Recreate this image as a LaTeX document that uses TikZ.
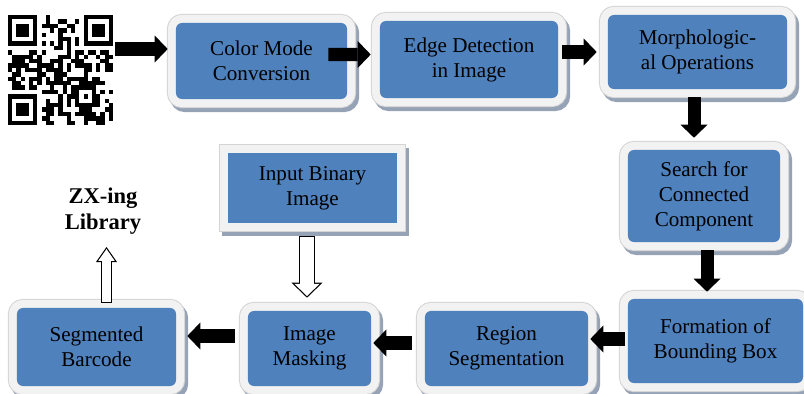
\documentclass[tikz,border=0pt]{standalone}
\usepackage{fontspec}
\setmainfont{Liberation Serif}
\usepackage{tikz}
\definecolor{stageblue}{RGB}{79, 129, 189}
\definecolor{framegray}{RGB}{242, 242, 242}
\definecolor{frameline}{RGB}{212, 212, 212}
\definecolor{shadowgray}{RGB}{150, 162, 182}
\usetikzlibrary{arrows.meta, calc}

\begin{document}
\begin{tikzpicture}[
    x=0.025cm, y=-0.025cm,
    stage/.style={rectangle, rounded corners=0.15cm, fill=stageblue, inner sep=0pt, align=center, font=\rmfamily\fontsize{15}{17.8}\selectfont,
        preaction={draw=shadowgray, line width=0.45cm, transform canvas={shift={(0.075cm,-0.1cm)}}},
        preaction={draw=frameline, line width=0.45cm},
        preaction={draw=framegray, line width=0.4cm}},
    flowarrow/.style={line width=0.325cm, -{Triangle[width=0.675cm, length=0.325cm, line width=0pt]}},
    hollowbig/.style={line width=0.4cm, -{Triangle[width=0.775cm, length=0.375cm, line width=0pt]}},
    hollowbigin/.style={white, line width=0.34cm, shorten <=0.03cm, shorten >=0.042cm, -{Triangle[width=0.626cm, length=0.303cm, line width=0pt]}},
    hollowsmall/.style={line width=0.275cm, -{Triangle[width=0.525cm, length=0.375cm, line width=0pt]}},
    hollowsmallin/.style={white, line width=0.215cm, shorten <=0.03cm, shorten >=0.052cm, -{Triangle[width=0.41cm, length=0.293cm, line width=0pt]}}
]
    \fill[white] (0,0) rectangle (804,394);
    \useasboundingbox (0,0) rectangle (804,394);

    % QR code
    \node[minimum width=2.625cm, minimum height=2.75cm, inner sep=0pt] (qr) at (60.5,70) {};
    \pgfmathsetseed{11}
    \foreach \i in {0,...,24} {
        \foreach \j in {0,...,24} {
            \pgfmathtruncatemacro\keep{(rnd<0.48)&&!((\i<8&&\j<8)||(\i>16&&\j<8)||(\i<8&&\j>16)||(\i>15&&\i<21&&\j>15&&\j<21)||\i==6||\j==6)}
            \ifnum\keep=1 \fill (8+\i*4.2,15+\j*4.4) rectangle ++(4.2,4.4); \fi
        }
    }
    \foreach \k in {8,10,...,16} {
        \fill (8+\k*4.2,15+6*4.4) rectangle ++(4.2,4.4);
        \fill (8+6*4.2,15+\k*4.4) rectangle ++(4.2,4.4);
    }
    \foreach \ox/\oy in {0/0, 18/0, 0/18} {
        \fill (8+\ox*4.2,15+\oy*4.4) rectangle ++(29.4,30.8);
        \fill[white] (12.2+\ox*4.2,19.4+\oy*4.4) rectangle ++(21,22);
        \fill (16.4+\ox*4.2,23.8+\oy*4.4) rectangle ++(12.6,13.2);
    }
    \fill (8+16*4.2,15+16*4.4) rectangle ++(21,22);
    \fill[white] (12.2+16*4.2,19.4+16*4.4) rectangle ++(12.6,13.2);
    \fill (16.4+16*4.2,23.8+16*4.4) rectangle ++(4.2,4.4);

    % Stages
    \node[stage, minimum width=4.275cm, minimum height=1.9cm] (colormode) at (261.5,61) {Color Mode\\Conversion};
    \node[stage, minimum width=4.45cm, minimum height=1.925cm] (edgedet) at (469,59.5) {Edge Detection\\in Image};
    \node[stage, minimum width=4.475cm, minimum height=1.85cm] (morph) at (697.5,52) {Morphologic-\\al Operations};
    \node[stage, minimum width=3.8cm, minimum height=2.3cm] (search) at (704,196) {Search for\\Connected\\Component};
    \node[stage, minimum width=4.375cm, minimum height=2.1cm] (bbox) at (715.5,341) {Formation of\\Bounding Box};
    \node[stage, minimum width=4.075cm, minimum height=1.875cm] (regseg) at (506.5,348.5) {Region\\Segmentation};
    \node[stage, minimum width=3.075cm, minimum height=1.875cm] (masking) at (309.5,348.5) {Image\\Masking};
    \node[stage, minimum width=3.975cm, minimum height=1.95cm] (segbar) at (96.5,347) {Segmented\\Barcode};
    \node[stage, sharp corners, minimum width=4.225cm, minimum height=1.75cm] (binimg) at (312.5,188) {Input Binary\\Image};

    % Output
    \node[font=\rmfamily\fontsize{16}{19}\selectfont\bfseries, align=center] (zxing) at (103,211) {ZX-ing\\Library};
    \coordinate (zxtip) at (106.5,247);

    % Flow
    \draw[flowarrow] ([shift={(2,-21)}]qr.east) -- ([shift={(-8,-12)}]colormode.west);
    \draw[flowarrow] ([shift={(-19,-6.5)}]colormode.east) -- ([shift={(-9,-5)}]edgedet.west);
    \draw[flowarrow] ([shift={(4,-7.5)}]edgedet.east) -- ([shift={(-11,0)}]morph.west);
    \draw[flowarrow] ([shift={(-3.5,8)}]morph.south) -- ([shift={(-10,-12)}]search.north);
    \draw[flowarrow] ([shift={(3,8)}]search.south) -- ([shift={(-8.5,-7)}]bbox.north);
    \draw[flowarrow] ([shift={(-3,-2)}]bbox.west) -- ([shift={(2,-9.5)}]regseg.east);
    \draw[flowarrow] ([shift={(-13,-5.5)}]regseg.west) -- ([shift={(2,-5.5)}]masking.east);
    \draw[flowarrow] ([shift={(-13,-12.5)}]masking.west) -- ([shift={(11,-11)}]segbar.east);

    % Hollow arrows
    \draw[hollowbig] ([shift={(-5.5,13)}]binimg.south) -- ([shift={(-2.5,-13)}]masking.north);
    \draw[hollowbigin] ([shift={(-5.5,13)}]binimg.south) -- ([shift={(-2.5,-13)}]masking.north);
    \draw[hollowsmall] ([shift={(10,-5)}]segbar.north) -- (zxtip);
    \draw[hollowsmallin] ([shift={(10,-5)}]segbar.north) -- (zxtip);
\end{tikzpicture}
\end{document}
